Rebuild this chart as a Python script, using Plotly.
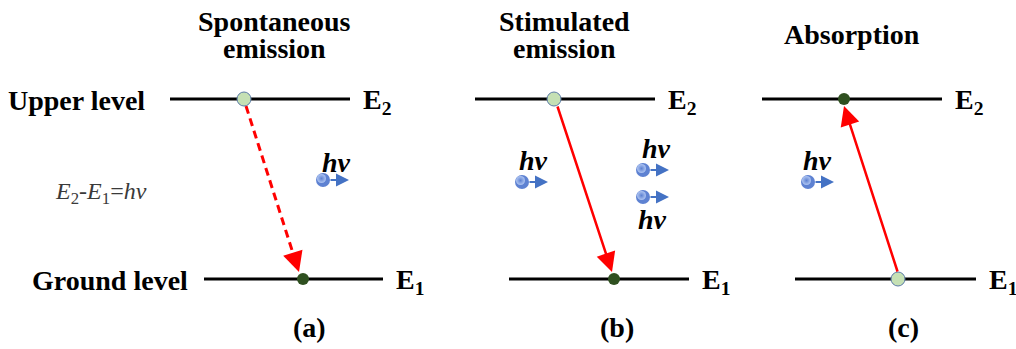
import plotly.graph_objects as go

# ---- diagram content ----
panel_labels = ["(a)", "(b)", "(c)"]
panel_titles = [["Spontaneous", "emission"], ["Stimulated", "emission"], ["Absorption"]]
level_names = ["Upper level", "Ground level"]
energy_labels = ["E<sub>2</sub>", "E<sub>1</sub>"]
photon_text = "<b><i>hv</i></b>"
equation_text = "<i>E</i><sub>2</sub>-<i>E</i><sub>1</sub>=<i>hν</i>"

# level geometry (pixel-like data coordinates)
upper_y = 99
ground_y = 279
upper_x0 = [170, 475, 762]
upper_x1 = [350, 655, 942]
ground_x0 = [204, 509, 795]
ground_x1 = [383, 689, 976]
upper_dot_x = [244, 554, 844]
ground_dot_x = [303, 614, 898]
upper_dot_filled = [False, False, True]
ground_dot_filled = [True, True, False]
label_x = [309, 617, 903]
title_x = [274, 564, 852]

# transitions
trans_tail_x = [246, 557, 898]
trans_tail_y = [106, 105, 273]
trans_head_x = [299, 612, 844]
trans_head_y = [272, 272, 106]
trans_dashed = [True, False, False]

# photons: ball centre, text centre
photon_x = [323, 522, 643, 643, 808]
photon_y = [180, 182, 170, 197, 182]
photon_tx = [336, 533, 656, 652, 817]
photon_ty = [162, 160, 148, 219, 160]

BLACK = "#000000"
RED = "#FF0000"
DARK = "#2F5020"
LIGHT = "#C5E0B4"
BLUE = "#4472C4"
SERIF = "Times New Roman, Liberation Serif, serif"

fig = go.Figure()
ann = []


def txt(x, y, s, size=28, xa="center", color=BLACK):
    ann.append(dict(x=x, y=y, text=s, xanchor=xa, yanchor="middle",
                    font=dict(size=size, family=SERIF, color=color)))


# energy levels
for i in range(3):
    fig.add_trace(go.Scatter(x=[upper_x0[i], upper_x1[i]], y=[upper_y, upper_y], mode="lines",
                             line=dict(color=BLACK, width=3), hoverinfo="skip"))
    fig.add_trace(go.Scatter(x=[ground_x0[i], ground_x1[i]], y=[ground_y, ground_y], mode="lines",
                             line=dict(color=BLACK, width=3), hoverinfo="skip"))
    txt(upper_x1[i] + 11, upper_y + 2, "<b>" + energy_labels[0] + "</b>", xa="left")
    txt(ground_x1[i] + 11, ground_y + 2, "<b>" + energy_labels[1] + "</b>", xa="left")
    txt(label_x[i], 327, "<b>" + panel_labels[i] + "</b>")
    titles = panel_titles[i]
    if len(titles) == 2:
        txt(title_x[i], 21, "<b>" + titles[0] + "</b>")
        txt(title_x[i], 48, "<b>" + titles[1] + "</b>")
    else:
        txt(title_x[i], 34, "<b>" + titles[0] + "</b>")

# level names
txt(147, upper_y + 1, "<b>" + level_names[0] + "</b>", xa="right")
txt(190, ground_y + 1, "<b>" + level_names[1] + "</b>", xa="right")
txt(53, 193, equation_text, size=24, xa="left", color="#3A3A3A")

# transitions
for i in range(3):
    if trans_dashed[i]:
        fx = trans_head_x[i] - (trans_head_x[i] - trans_tail_x[i]) * 0.06
        fy = trans_head_y[i] - (trans_head_y[i] - trans_tail_y[i]) * 0.06
        fig.add_trace(go.Scatter(x=[trans_tail_x[i], fx], y=[trans_tail_y[i], fy], mode="lines",
                                 line=dict(color=RED, width=3, dash="8px,5px"), hoverinfo="skip"))
        ann.append(dict(x=trans_head_x[i], y=trans_head_y[i], ax=fx - (trans_head_x[i] - fx) * 0.2,
                        ay=fy - (trans_head_y[i] - fy) * 0.2,
                        axref="x", ayref="y", text="", showarrow=True,
                        arrowhead=2, arrowsize=1.35, arrowwidth=3, arrowcolor=RED))
    else:
        ann.append(dict(x=trans_head_x[i], y=trans_head_y[i], ax=trans_tail_x[i], ay=trans_tail_y[i],
                        axref="x", ayref="y", text="", showarrow=True,
                        arrowhead=2, arrowsize=1.55, arrowwidth=2.5, arrowcolor=RED))

# level dots
for i in range(3):
    for xs, yv, filled in ((upper_dot_x[i], upper_y, upper_dot_filled[i]),
                           (ground_dot_x[i], ground_y, ground_dot_filled[i])):
        if filled:
            mk = dict(size=12, color=DARK, line=dict(color=DARK, width=0))
        else:
            mk = dict(size=14, color=LIGHT, line=dict(color="#5B7BA8", width=1))
        fig.add_trace(go.Scatter(x=[xs], y=[yv], mode="markers", marker=mk, hoverinfo="skip"))

# photons: blue sphere with a highlight
fig.add_trace(go.Scatter(x=photon_x, y=photon_y, mode="markers", hoverinfo="skip",
                         marker=dict(size=14, color="#5E82D2", line=dict(width=0))))
fig.add_trace(go.Scatter(x=[p - 1.5 for p in photon_x], y=[p - 1.5 for p in photon_y],
                         mode="markers", hoverinfo="skip",
                         marker=dict(size=9, color="#AFC5F2",
                                     gradient=dict(type="radial", color="#5E82D2"),
                                     line=dict(width=0))))
for px, py, tx, ty in zip(photon_x, photon_y, photon_tx, photon_ty):
    ann.append(dict(x=px + 26, y=py, ax=px + 6, ay=py, axref="x", ayref="y",
                    text="", showarrow=True, arrowhead=2, arrowsize=1.3, arrowwidth=2, arrowcolor=BLUE))
    txt(tx, ty, photon_text)

for a in ann:
    a.setdefault("xref", "x")
    a.setdefault("yref", "y")
    a.setdefault("showarrow", False)

fig.update_layout(
    width=1016, height=349,
    margin=dict(l=0, r=0, t=0, b=0),
    paper_bgcolor="white", plot_bgcolor="white",
    showlegend=False,
    font=dict(family=SERIF),
    xaxis=dict(range=[0, 1016], visible=False, fixedrange=True),
    yaxis=dict(range=[349, 0], visible=False, fixedrange=True),
    annotations=ann,
)

# remove the default page margin so the figure fills the window exactly
fig.write_html("out.html",
               config={"displayModeBar": False, "staticPlot": True},
               post_script="document.body.style.margin='0';document.body.style.overflow='hidden';")
